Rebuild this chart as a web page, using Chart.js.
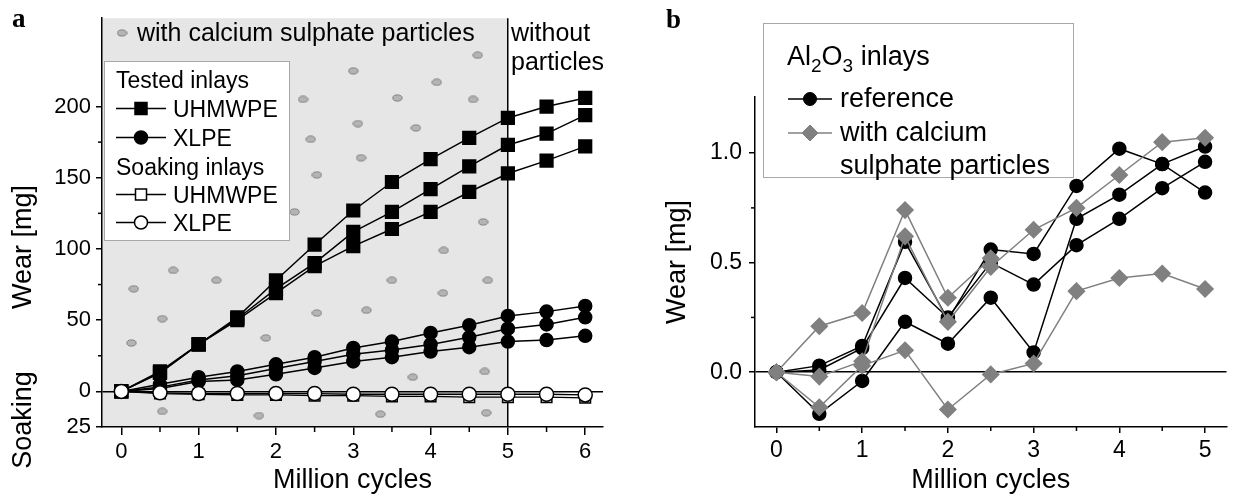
<!DOCTYPE html>
<html><head><meta charset="utf-8">
<script src="https://cdn.jsdelivr.net/npm/chart.js@4.4.0/dist/chart.umd.min.js"></script>
<style>
html,body{margin:0;padding:0;background:#fff;width:1236px;height:497px;overflow:hidden}
#a{position:absolute;left:0;top:0}
#b{position:absolute;left:620px;top:0}
</style></head><body>
<canvas id="a" width="620" height="497"></canvas>
<canvas id="b" width="616" height="497"></canvas>
<script>
const FONT = '"Liberation Sans", Arial, Helvetica, sans-serif';
const SERIF = '"Liberation Serif", "Times New Roman", serif';

// ---------- Panel a data ----------
const cyclesA = [0, 0.5, 1, 1.5, 2, 2.5, 3, 3.5, 4, 4.5, 5, 5.5, 6];
const uhmwpe1 = [0, 14, 33, 52, 78, 103, 127, 147, 163, 178, 192, 200, 206];
const uhmwpe2 = [0, 13, 33, 51, 72, 90, 112, 126, 142, 158, 173, 181, 194];
const uhmwpe3 = [0, 13, 33, 50, 69, 88, 102, 114, 126, 140, 153, 162, 172];
const xlpe1 = [0, 5, 10, 14, 19, 24, 30.5, 35, 41, 46.5, 53, 56, 60];
const xlpe2 = [0, 3, 8, 11, 16, 21, 26, 29, 33, 38, 44, 47, 52];
const xlpe3 = [0, 2, 7, 8, 12, 16.5, 21, 24, 28, 31, 35, 36, 39];
const soakUhmwpe = [0, -1.5, -2, -2.5, -2.5, -3, -3, -3.5, -3.5, -4, -4, -4, -4.5];
const soakXlpe = [0, -1, -1.5, -1.5, -1.5, -1.5, -2, -2, -2, -2, -2, -2, -2.5];
const particleX = [2.35, 2.45, 2.53, 2.24, 4.61, 3.00, 4.08, 3.57, 4.55, 3.06, 3.81, 3.10, 4.68, 4.17, 0.67, 0.16, 1.23, 0.53, 2.53, 0.13, 1.87, 0.53, 1.78, 3.50, 4.74, 4.16, 3.17, 3.77, 4.70, 3.35, 4.72];
const particleY = [205, 177, 152, 126, 236, 225, 217, 206, 205, 188, 185, 164, 119, 99, 85, 72, 78, 51, 55, 34, 37.5, -14, -17, 78, 78, 69, 57, 10, 14, -16, -15];
const xTicksA = [0, 1, 2, 3, 4, 5, 6];
const xMinorA = [0.5, 1.5, 2.5, 3.5, 4.5, 5.5];
const yTicksA = [-25, 0, 50, 100, 150, 200];
const yMinorA = [25, 75, 125, 175];
const particleEnd = 5;

// ---------- Panel b data ----------
const cyclesB = [0, 0.5, 1, 1.5, 2, 2.5, 3, 3.5, 4, 4.5, 5];
const ref1 = [0, 0.03, 0.12, 0.595, 0.24, 0.56, 0.54, 0.85, 1.02, 0.95, 0.82];
const ref2 = [0, 0.01, 0.11, 0.43, 0.25, 0.50, 0.40, 0.58, 0.70, 0.84, 0.96];
const ref3 = [0, -0.19, -0.04, 0.23, 0.13, 0.34, 0.09, 0.70, 0.81, 0.95, 1.03];
const calc1 = [0, 0.21, 0.27, 0.74, 0.34, 0.52, null, null, null, null, null];
const calc2 = [0, -0.02, 0.05, 0.62, 0.23, 0.48, 0.65, 0.75, 0.90, 1.05, 1.07];
const calc3 = [0, -0.16, 0.03, 0.10, -0.17, -0.01, 0.04, 0.37, 0.43, 0.45, 0.38];
const xTicksB = [0, 1, 2, 3, 4, 5];
const xMinorB = [0.5, 1.5, 2.5, 3.5, 4.5];
const yTicksB = [0, 0.5, 1.0];
const yMinorB = [0.25, 0.75];

const pts = (xs, ys) => xs.map((x, i) => ({x: x, y: ys[i]})).filter(p => p.y !== null && p.y !== undefined);

// particle ellipse sprite
const dot = document.createElement('canvas');
dot.width = 11; dot.height = 8;
(function(){ const c = dot.getContext('2d'); c.fillStyle = '#b4b4b4'; c.strokeStyle = '#7e7e7e'; c.lineWidth = 1;
  c.beginPath(); c.ellipse(5.5, 4, 4.6, 3.1, 0, 0, Math.PI * 2); c.fill(); c.stroke(); })();

function marker(ctx, style, x, y, r, fill, stroke, lw) {
  ctx.save();
  ctx.fillStyle = fill; ctx.strokeStyle = stroke; ctx.lineWidth = lw;
  ctx.beginPath();
  if (style === 'circle') ctx.arc(x, y, r, 0, Math.PI * 2);
  else if (style === 'rect') ctx.rect(x - r, y - r, 2 * r, 2 * r);
  else if (style === 'diamond') { ctx.moveTo(x, y - r); ctx.lineTo(x + r, y); ctx.lineTo(x, y + r); ctx.lineTo(x - r, y); ctx.closePath(); }
  ctx.fill(); ctx.stroke();
  ctx.restore();
}

const minorTicks = {
  id: 'minorTicks',
  afterDraw(chart, args, o) {
    const ctx = chart.ctx, xs = chart.scales.x, ys = chart.scales.y;
    ctx.save(); ctx.strokeStyle = '#000'; ctx.lineWidth = 1.5;
    (o.x || []).forEach(v => { const p = xs.getPixelForValue(v); ctx.beginPath(); ctx.moveTo(p, xs.top); ctx.lineTo(p, xs.top + o.xLen); ctx.stroke(); });
    (o.y || []).forEach(v => { const p = ys.getPixelForValue(v); ctx.beginPath(); ctx.moveTo(ys.right, p); ctx.lineTo(ys.right - o.yLen, p); ctx.stroke(); });
    ctx.restore();
  }
};

const panelA = {
  id: 'panelA',
  beforeDraw(chart) {
    const ctx = chart.ctx, ca = chart.chartArea, xs = chart.scales.x;
    ctx.save();
    ctx.fillStyle = '#e6e6e6';
    const xr = xs.getPixelForValue(particleEnd);
    ctx.fillRect(ca.left, ca.top, xr - ca.left, ca.bottom - ca.top);
    ctx.restore();
  },
  afterDraw(chart) {
    const ctx = chart.ctx;
    ctx.save();
    ctx.fillStyle = '#000';
    ctx.font = 'bold 27px ' + SERIF; ctx.textBaseline = 'alphabetic'; ctx.textAlign = 'left';
    ctx.fillText('a', 12, 27);
    ctx.font = '25px ' + FONT;
    ctx.drawImage(dot, 122 - 5.5, 33 - 4);
    ctx.fillText('with calcium sulphate particles', 137, 41);
    ctx.fillText('without', 511, 41);
    ctx.fillText('particles', 511, 70);
    ctx.font = '27px ' + FONT; ctx.textAlign = 'center'; ctx.textBaseline = 'middle';
    ctx.save(); ctx.translate(24, 247); ctx.rotate(-Math.PI / 2); ctx.fillText('Wear [mg]', 0, 0); ctx.restore();
    ctx.save(); ctx.translate(24, 420); ctx.rotate(-Math.PI / 2); ctx.fillText('Soaking', 0, 0); ctx.restore();
    ctx.fillStyle = '#fff'; ctx.strokeStyle = '#a8a8a8'; ctx.lineWidth = 1;
    ctx.fillRect(104.5, 61.5, 185, 179); ctx.strokeRect(104.5, 61.5, 185, 179);
    ctx.fillStyle = '#000'; ctx.textAlign = 'left'; ctx.textBaseline = 'alphabetic';
    ctx.font = '23px ' + FONT;
    ctx.fillText('Tested inlays', 116, 88);
    ctx.fillText('Soaking inlays', 116, 175);
    const rows = [
      {t: 'UHMWPE', b: 117, s: 'rect', r: 6, f: '#000'},
      {t: 'XLPE', b: 146, s: 'circle', r: 6.5, f: '#000'},
      {t: 'UHMWPE', b: 203, s: 'rect', r: 5.5, f: '#fff'},
      {t: 'XLPE', b: 231, s: 'circle', r: 6.5, f: '#fff'}
    ];
    rows.forEach(rw => {
      const cy = rw.b - 8.5;
      ctx.strokeStyle = '#000'; ctx.lineWidth = 1.5;
      ctx.beginPath(); ctx.moveTo(116, cy); ctx.lineTo(166, cy); ctx.stroke();
      marker(ctx, rw.s, 141, cy, rw.r, rw.f, '#000', 1.5);
      ctx.fillStyle = '#000';
      ctx.fillText(rw.t, 173, rw.b);
    });
    ctx.restore();
  }
};

const panelB = {
  id: 'panelB',
  afterDraw(chart) {
    const ctx = chart.ctx;
    ctx.save();
    ctx.fillStyle = '#000';
    ctx.font = 'bold 27px ' + SERIF; ctx.textBaseline = 'alphabetic'; ctx.textAlign = 'left';
    ctx.fillText('b', 46, 28);
    ctx.fillStyle = '#fff'; ctx.strokeStyle = '#a8a8a8'; ctx.lineWidth = 1;
    ctx.fillRect(143.5, 23.5, 310, 154); ctx.strokeRect(143.5, 23.5, 310, 154);
    ctx.fillStyle = '#000';
    let x = 167; const base = 65;
    const seg = (t, size, dy) => { ctx.font = size + 'px ' + FONT; ctx.fillText(t, x, base + dy); x += ctx.measureText(t).width; };
    seg('Al', 27, 0); seg('2', 19, 7); seg('O', 27, 0); seg('3', 19, 7); seg(' inlays', 27, 0);
    ctx.font = '27px ' + FONT;
    ctx.strokeStyle = '#000'; ctx.lineWidth = 1.5;
    ctx.beginPath(); ctx.moveTo(168, 99); ctx.lineTo(212, 99); ctx.stroke();
    marker(ctx, 'circle', 190, 99, 6.5, '#000', '#000', 1);
    ctx.fillStyle = '#000'; ctx.fillText('reference', 220, 107);
    ctx.strokeStyle = '#808080';
    ctx.beginPath(); ctx.moveTo(168, 133); ctx.lineTo(212, 133); ctx.stroke();
    marker(ctx, 'diamond', 190, 133, 8, '#808080', '#808080', 1);
    ctx.fillStyle = '#000';
    ctx.fillText('with calcium', 220, 141);
    ctx.fillText('sulphate particles', 220, 174);
    ctx.restore();
  }
};

const tickFont = s => ({family: FONT, size: s});

function mkGrid(len, lineAt) {
  return {
    display: true, drawOnChartArea: true, drawTicks: true, tickLength: len, tickWidth: 1.5, tickColor: '#000',
    lineWidth: 1.5,
    color: c => (c.tick && lineAt.indexOf(c.tick.value) >= 0) ? '#000' : 'rgba(0,0,0,0)'
  };
}

const lineDs = (label, data, style, r, fill, stroke, lw, order) => ({
  label: label, data: data, showLine: true, tension: 0,
  borderColor: stroke, borderWidth: lw,
  pointStyle: style, pointRadius: r, pointHoverRadius: r,
  pointBackgroundColor: fill, pointBorderColor: (stroke === '#808080' ? '#808080' : '#000'), pointBorderWidth: 1.5,
  order: order
});

new Chart(document.getElementById('a'), {
  type: 'line',
  data: {
    datasets: [
      lineDs('Soaking XLPE', pts(cyclesA, soakXlpe), 'circle', 7, '#fff', '#000', 1.3, 0),
      lineDs('Soaking UHMWPE', pts(cyclesA, soakUhmwpe), 'rect', 7.5, '#fff', '#000', 1.3, 1),
      lineDs('XLPE 1', pts(cyclesA, xlpe1), 'circle', 6.5, '#000', '#000', 1.5, 2),
      lineDs('XLPE 2', pts(cyclesA, xlpe2), 'circle', 6.5, '#000', '#000', 1.5, 2),
      lineDs('XLPE 3', pts(cyclesA, xlpe3), 'circle', 6.5, '#000', '#000', 1.5, 2),
      lineDs('UHMWPE 1', pts(cyclesA, uhmwpe1), 'rect', 9, '#000', '#000', 1.5, 3),
      lineDs('UHMWPE 2', pts(cyclesA, uhmwpe2), 'rect', 9, '#000', '#000', 1.5, 3),
      lineDs('UHMWPE 3', pts(cyclesA, uhmwpe3), 'rect', 9, '#000', '#000', 1.5, 3),
      {label: 'particles', data: pts(particleX, particleY), showLine: false, pointStyle: dot, pointRadius: 4, order: 9}
    ]
  },
  options: {
    responsive: false, animation: false, events: [],
    layout: {padding: {left: 0, right: 17, top: 15, bottom: 0}},
    plugins: {legend: {display: false}, tooltip: {enabled: false},
      minorTicks: {x: xMinorA, y: yMinorA, xLen: 5, yLen: 4}},
    scales: {
      x: {
        type: 'linear', min: -0.25, max: 6.23,
        afterBuildTicks: s => { s.ticks = xTicksA.map(v => ({value: v})); },
        afterFit: s => { s.height = 70; },
        ticks: {color: '#000', font: tickFont(22), padding: 4, maxRotation: 0, autoSkip: false},
        grid: mkGrid(8, [particleEnd]),
        border: {display: true, color: '#000', width: 1.5},
        title: {display: true, text: 'Million cycles', color: '#000', font: {family: FONT, size: 27}, padding: {top: 0, bottom: 0}}
      },
      y: {
        type: 'linear', min: -25, max: 262,
        afterBuildTicks: s => { s.ticks = yTicksA.map(v => ({value: v})); },
        afterFit: s => { s.width = 102; },
        ticks: {color: '#000', font: tickFont(22), padding: 5, autoSkip: false, callback: v => v === -25 ? '25' : String(v)},
        grid: mkGrid(6, [0]),
        border: {display: true, color: '#000', width: 1.5}
      }
    }
  },
  plugins: [panelA, minorTicks]
});

new Chart(document.getElementById('b'), {
  type: 'line',
  data: {
    datasets: [
      lineDs('calc 1', pts(cyclesB, calc1), 'rectRot', 8, '#808080', '#808080', 1.5, 0),
      lineDs('calc 2', pts(cyclesB, calc2), 'rectRot', 8, '#808080', '#808080', 1.5, 0),
      lineDs('calc 3', pts(cyclesB, calc3), 'rectRot', 8, '#808080', '#808080', 1.5, 0),
      lineDs('ref 1', pts(cyclesB, ref1), 'circle', 6.5, '#000', '#000', 1.5, 1),
      lineDs('ref 2', pts(cyclesB, ref2), 'circle', 6.5, '#000', '#000', 1.5, 1),
      lineDs('ref 3', pts(cyclesB, ref3), 'circle', 6.5, '#000', '#000', 1.5, 1)
    ]
  },
  options: {
    responsive: false, animation: false, events: [],
    layout: {padding: {left: 0, right: 0, top: 97, bottom: 0}},
    plugins: {legend: {display: false}, tooltip: {enabled: false},
      minorTicks: {x: xMinorB, y: yMinorB, xLen: 4, yLen: 4}},
    scales: {
      x: {
        type: 'linear', min: -0.25, max: 5.25,
        afterBuildTicks: s => { s.ticks = xTicksB.map(v => ({value: v})); },
        afterFit: s => { s.height = 70; },
        ticks: {color: '#000', font: tickFont(23), padding: 4, maxRotation: 0, autoSkip: false},
        grid: mkGrid(6, []),
        border: {display: true, color: '#000', width: 1.5},
        title: {display: true, text: 'Million cycles', color: '#000', font: {family: FONT, size: 27}, padding: {top: 0, bottom: 0}}
      },
      y: {
        type: 'linear', min: -0.25, max: 1.256,
        afterBuildTicks: s => { s.ticks = yTicksB.map(v => ({value: v})); },
        afterFit: s => { s.width = 135; },
        ticks: {color: '#000', font: tickFont(23), padding: 7, autoSkip: false, callback: v => Number(v).toFixed(1)},
        grid: mkGrid(6, [0]),
        border: {display: true, color: '#000', width: 1.5},
        title: {display: true, text: 'Wear [mg]', color: '#000', font: {family: FONT, size: 27}, padding: {top: 41, bottom: 0}}
      }
    }
  },
  plugins: [panelB, minorTicks]
});
</script>
</body></html>
